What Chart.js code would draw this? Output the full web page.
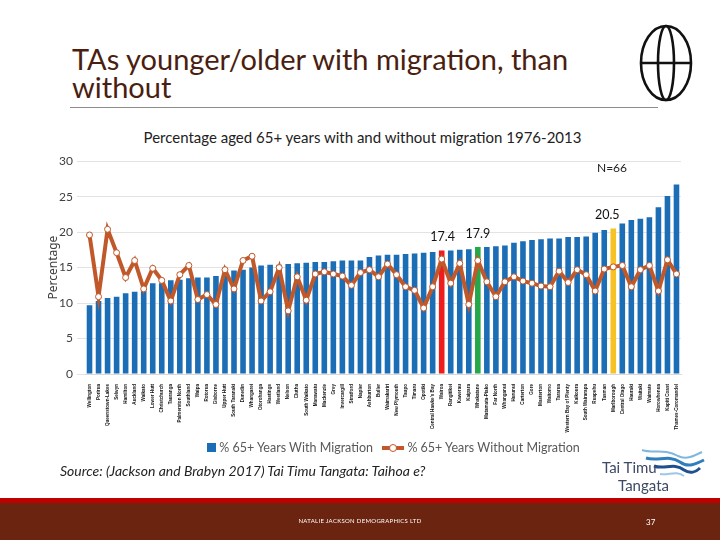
<!DOCTYPE html>
<html>
<head>
<meta charset="utf-8">
<script src="https://cdn.jsdelivr.net/npm/chart.js@4.4.1/dist/chart.umd.min.js"></script>
<style>
  body { margin:0; width:720px; height:540px; position:relative; background:#fff; overflow:hidden; font-family:Lato, "Noto Sans", sans-serif; }
  #title { position:absolute; left:72px; top:45px; font-size:29px; line-height:28px; color:#4a1e10; }
  #rule { position:absolute; left:70px; top:107px; width:588px; height:1px; background:#8c8c8c; }
  #ctitle { position:absolute; left:0; width:725px; top:128px; text-align:center; font-size:15px; color:#222; }
  #nlabel { position:absolute; left:597px; top:160px; font-size:12px; color:#222; }
  #wrap { position:absolute; left:46px; top:150px; width:654px; height:290px; }
  #legend { position:absolute; top:439px; left:207px; font-size:12.5px; color:#595959; white-space:nowrap; }
  #legend span { display:inline-block; vertical-align:middle; }
  #source { position:absolute; left:60px; top:462px; font-size:14px; font-style:italic; color:#222; }
  #logo1 { position:absolute; left:602px; top:458px; font-size:15px; color:#3d4a66; }
  #logo2 { position:absolute; left:618px; top:476px; font-size:15px; color:#3d4a66; }
  #footer { position:absolute; left:0; top:498px; width:720px; height:42px; background:#6a2410; border-top:5px solid #c00000; box-sizing:border-box; }
  #ftext { position:absolute; left:0; width:720px; top:517px; text-align:center; font-size:6px; color:#fff; letter-spacing:0.3px; }
  #page { position:absolute; left:646px; top:517px; font-size:8px; color:#fff; }
</style>
</head>
<body>
<div id="title">TAs younger/older with migration, than<br>without</div>
<div id="rule"></div>
<svg style="position:absolute;left:630px;top:20px" width="80" height="90">
  <ellipse cx="36" cy="43" rx="25" ry="37" fill="none" stroke="#111" stroke-width="2.6"/>
  <ellipse cx="36" cy="43" rx="8" ry="37" fill="none" stroke="#111" stroke-width="2.6"/>
  <line x1="11" y1="43" x2="61" y2="43" stroke="#111" stroke-width="2.6"/>
</svg>
<div id="ctitle">Percentage aged 65+ years with and without migration 1976-2013</div>
<div id="wrap"><canvas id="mychart"></canvas></div>
<div id="nlabel">N=66</div>
<div id="legend">
  <span style="width:9px;height:9px;background:#1b6db5;"></span>
  <span>% 65+ Years With Migration</span>
  <span style="position:relative;width:22px;height:10px;margin-left:6px;">
    <span style="position:absolute;left:0;top:3px;width:22px;height:4px;background:#c0582a;"></span>
    <span style="position:absolute;left:7px;top:1px;width:6px;height:6px;border-radius:50%;background:#fff;border:1px solid #c0582a;"></span>
  </span>
  <span>% 65+ Years Without Migration</span>
</div>
<div id="source">Source: (Jackson and Brabyn 2017) Tai Timu Tangata: Taihoa e?</div>
<svg style="position:absolute;left:634px;top:446px" width="80" height="40">
  <path d="M8 4 C20 8 30 2 44 10 C52 14 60 10 68 6" fill="none" stroke="#7fb8dc" stroke-width="2"/>
  <path d="M12 12 C24 16 34 8 46 16 C54 22 62 18 70 14" fill="none" stroke="#2f7fbf" stroke-width="3"/>
  <path d="M20 20 C30 24 40 16 50 24 C56 28 62 26 66 22" fill="none" stroke="#1e4f8f" stroke-width="3"/>
  <path d="M26 28 C34 30 42 24 50 30" fill="none" stroke="#9cc8e6" stroke-width="2"/>
</svg>
<div id="logo1">Tai Timu</div>
<div id="logo2">Tangata</div>
<div id="footer"></div>
<div id="ftext">NATALIE JACKSON DEMOGRAPHICS LTD</div>
<div id="page">37</div>

<script>
const labels = [
  "Wellington", "Porirua", "Queenstown-Lakes", "Selwyn", "Hamilton", "Auckland",
  "Waikato", "Lower Hutt", "Christchurch", "Tauranga", "Palmerston North", "Southland",
  "Waipa", "Rotorua", "Gisborne", "Upper Hutt", "South Taranaki", "Dunedin",
  "Whangarei", "Otorohanga", "Hastings", "Westland", "Nelson", "Clutha",
  "South Waikato", "Manawatu", "Mackenzie", "Grey", "Invercargill", "Stratford",
  "Napier", "Ashburton", "Buller", "Waimakariri", "New Plymouth", "Taupo",
  "Timaru", "Opotiki", "Central Hawke's Bay", "Wairoa", "Rangitikei", "Kawerau",
  "Kaipara", "Whakatane", "Matamata-Piako", "Far North", "Whanganui", "Hurunui",
  "Carterton", "Gore", "Masterton", "Waitomo", "Tararua", "Western Bay of Plenty",
  "Kaikoura", "South Wairarapa", "Ruapehu", "Tasman", "Marlborough", "Central Otago",
  "Hauraki", "Waitaki", "Waimate", "Horowhenua", "Kapiti Coast", "Thames-Coromandel"
];

// % aged 65+ with migration (bars)
const withMigration = [
  9.7, 10.3, 10.7, 10.9, 11.4, 11.6, 11.7, 12.8, 12.8, 13.2, 13.3, 13.5,
  13.6, 13.6, 13.8, 13.9, 14.6, 14.7, 15.0, 15.3, 15.4, 15.4, 15.5, 15.6,
  15.7, 15.8, 15.8, 15.9, 16.0, 16.0, 16.0, 16.5, 16.7, 16.8, 16.8, 16.9,
  17.0, 17.1, 17.2, 17.4, 17.4, 17.5, 17.6, 17.9, 17.9, 18.0, 18.1, 18.5,
  18.7, 18.9, 19.0, 19.1, 19.1, 19.3, 19.3, 19.4, 19.9, 20.3, 20.5, 21.2,
  21.7, 21.9, 22.1, 23.5, 25.1, 26.7
];

// % aged 65+ without migration (line)
const withoutMigration = [
  19.6, 10.9, 20.4, 17.1, 13.6, 16.0, 12.0, 14.9, 13.2, 10.3, 14.0, 15.3,
  10.5, 11.2, 9.8, 14.7, 12.0, 16.0, 16.6, 10.3, 11.6, 15.0, 8.9, 13.7,
  10.4, 14.1, 14.4, 14.1, 13.8, 12.5, 14.3, 14.7, 13.7, 15.5, 14.0, 12.3,
  11.8, 9.3, 12.3, 16.2, 12.8, 15.6, 9.8, 16.0, 13.0, 10.9, 13.0, 13.7,
  13.1, 12.8, 12.4, 12.3, 14.5, 12.9, 14.7, 14.0, 11.7, 14.8, 15.1, 15.3,
  12.3, 14.7, 15.3, 11.7, 16.1, 14.1
];

// highlighted bars: index -> colour
const highlights = { 39: "#ee1c1c", 43: "#24a84a", 58: "#f6c226" };
// small sideways nudge of each value label, as on the slide
const labelShift = { 39: 1, 43: 0, 58: -6 };

let barColors = withMigration.map((v, i) => highlights[i] || "#1b6db5");

// write the value above the highlighted bars
const valueLabels = {
  id: "valueLabels",
  afterDatasetsDraw(chart) {
    const ctx = chart.ctx;
    const meta = chart.getDatasetMeta(1);
    ctx.save();
    ctx.font = "12.5px Lato";
    ctx.fillStyle = "#111";
    ctx.textAlign = "center";
    ctx.textBaseline = "bottom";
    Object.keys(highlights).forEach(k => {
      const bar = meta.data[k];
      ctx.fillText(withMigration[k].toFixed(1), bar.x + labelShift[k], bar.y - 7);
    });
    ctx.restore();
  }
};

const ctx = document.getElementById("mychart").getContext("2d");

const mychart = new Chart(ctx, {
  type: "bar",
  data: {
    labels: labels,
    datasets: [
      {
        type: "line",
        label: "% 65+ Years Without Migration",
        data: withoutMigration,
        borderColor: "#c0582a",
        borderWidth: 4,
        pointRadius: 3,
        pointBackgroundColor: "#fff",
        pointBorderColor: "#c0582a",
        pointBorderWidth: 1,
        tension: 0,
        order: 1
      },
      {
        label: "% 65+ Years With Migration",
        data: withMigration,
        backgroundColor: barColors,
        barPercentage: 0.62,
        categoryPercentage: 1,
        order: 2
      }
    ]
  },
  options: {
    responsive: true,
    maintainAspectRatio: false,
    animation: false,
    layout: { padding: { top: 5, right: 19, left: 0, bottom: 0 } },
    plugins: {
      legend: { display: false },
      tooltip: { enabled: false }
    },
    scales: {
      x: {
        grid: { display: false },
        border: { color: "#d9d9d9" },
        afterFit(scale) { scale.height = 66; },
        ticks: {
          autoSkip: false,
          minRotation: 90,
          maxRotation: 90,
          padding: 2,
          color: "#111",
          font: { size: 4.6, family: "Liberation Sans", weight: "bold" }
        }
      },
      y: {
        min: 0,
        max: 30,
        afterFit(scale) { scale.width = 39; },
        grid: { color: "#e3e3e3" },
        border: { display: false },
        ticks: { stepSize: 5, padding: 4, color: "#404040", font: { size: 12, family: "Lato" } },
        title: { display: true, text: "Percentage", color: "#404040", padding: 0, font: { size: 12, family: "Noto Sans" } }
      }
    }
  },
  plugins: [valueLabels]
});
</script>
</body>
</html>
